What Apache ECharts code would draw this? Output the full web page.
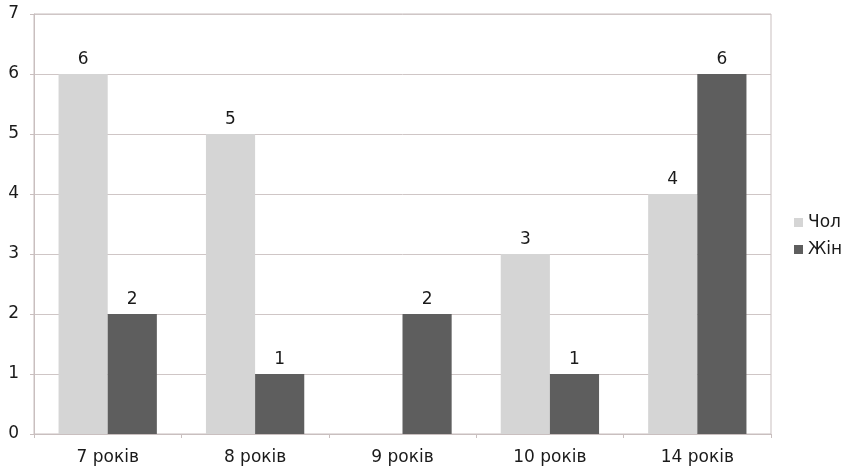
<!DOCTYPE html>
<html>
<head>
<meta charset="utf-8">
<script src="https://cdn.jsdelivr.net/npm/echarts@6/dist/echarts.min.js"></script>
<style>
  html, body { margin: 0; padding: 0; background: #ffffff; }
  #chart { width: 848px; height: 471px; }
</style>
</head>
<body>
<div id="chart"></div>
<script>
// Age groups and counts per group
const categories = ['7 років', '8 років', '9 років', '10 років', '14 років'];
const male = [6, 5, null, 3, 4];
const female = [2, 1, 2, 1, 6];
const seriesNames = ['Чол', 'Жін'];

const chart = echarts.init(document.getElementById('chart'), null, { renderer: 'canvas' });

const FONT = 'DejaVu Sans, Liberation Sans, sans-serif';

const labelStyle = {
  show: true,
  position: 'top',
  color: '#1a1a1a',
  fontFamily: FONT,
  fontSize: 17,
  distance: 6
};

chart.setOption({
  animation: false,
  backgroundColor: '#ffffff',
  grid: {
    left: 34, right: 77, top: 14, bottom: 37,
    show: true, borderColor: '#c9bfbf', borderWidth: 1
  },
  legend: {
    orient: 'vertical',
    left: 794,
    top: 214,
    padding: 0,
    itemWidth: 9,
    itemHeight: 9,
    itemGap: 10,
    icon: 'rect',
    textStyle: { fontFamily: FONT, fontSize: 17, color: '#1a1a1a', padding: [0, 0, 0, 0] },
    data: seriesNames
  },
  xAxis: {
    type: 'category',
    data: categories,
    axisLine: { show: true, lineStyle: { color: '#c9bfbf', width: 1 } },
    axisTick: { show: true, length: 4, lineStyle: { color: '#c9bfbf' } },
    axisLabel: { color: '#1a1a1a', fontFamily: FONT, fontSize: 17, margin: 15 },
    splitLine: { show: false }
  },
  yAxis: {
    type: 'value',
    min: 0,
    max: 7,
    interval: 1,
    axisLine: { show: true, lineStyle: { color: '#c9bfbf' } },
    axisTick: { show: true, length: 4, lineStyle: { color: '#c9bfbf' } },
    axisLabel: { color: '#1a1a1a', fontFamily: FONT, fontSize: 17, margin: 15 },
    splitLine: { show: true, lineStyle: { color: '#cfc6c6' } }
  },
  series: [
    {
      name: seriesNames[0],
      type: 'bar',
      data: male,
      barGap: '0%',
      barCategoryGap: '33.3%',
      itemStyle: { color: '#d5d5d5' },
      label: labelStyle
    },
    {
      name: seriesNames[1],
      type: 'bar',
      data: female,
      barGap: '0%',
      barCategoryGap: '33.3%',
      itemStyle: { color: '#5e5e5e' },
      label: labelStyle
    }
  ]
});
</script>
</body>
</html>
